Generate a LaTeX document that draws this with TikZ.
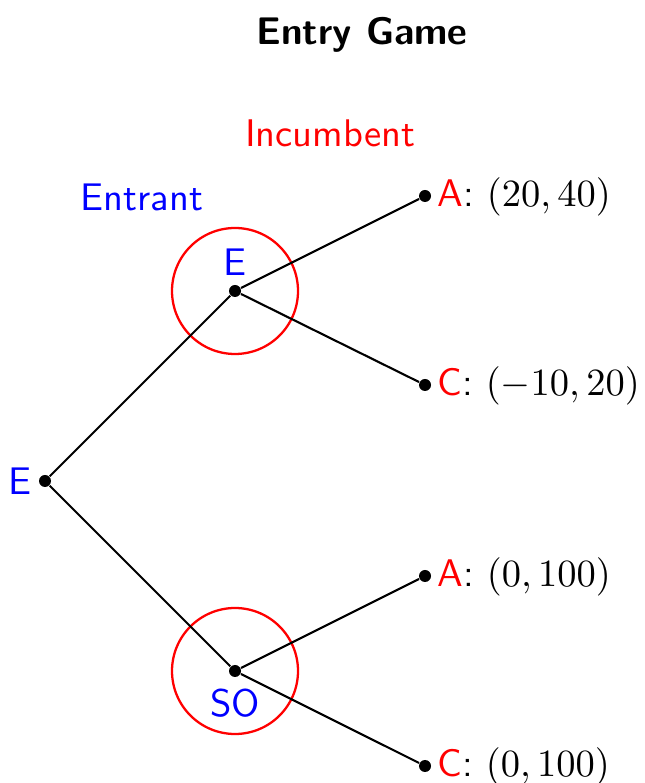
\documentclass[tikz,border=0pt,11pt]{standalone}
\renewcommand{\familydefault}{\sfdefault}

\begin{document}
\begin{tikzpicture}[x=1cm,y=1cm,
  dot/.style={circle, fill, inner sep=0pt, minimum size=0.12cm},
  player/.style={text=blue},
  ring/.style={draw=red, line width=0.65pt, circle, minimum size=1.26cm, inner sep=0pt},
  payoff/.style={anchor=base west, inner sep=0pt},
  edge/.style={line width=0.6pt}]
\useasboundingbox (0,0) rectangle (6.44,7.83);

\node[font=\bfseries] (title) at (3.62,7.48) {Entry Game};
\node[text=red] (inc) at (3.30,6.50) {Incumbent};
\node[player] (ent) at (1.42,5.86) {Entrant};

% decision nodes
\node[dot] (root) at (0.45,3.02) {};
\node[dot] (up) at (2.35,4.92) {};
\node[dot] (low) at (2.35,1.12) {};
\node[ring] (upring) at (2.35,4.92) {};
\node[ring] (lowring) at (2.35,1.12) {};
\node[player] (rootlab) at (0.20,3.02) {E};
\node[player] (uplab) at (2.35,5.21) {E};
\node[player] (lowlab) at (2.35,0.80) {SO};

% terminal nodes
\node[dot] (t1) at (4.25,5.87) {};
\node[dot] (t2) at (4.25,3.98) {};
\node[dot] (t3) at (4.25,2.07) {};
\node[dot] (t4) at (4.25,0.17) {};
\node[payoff] (p1) at (4.37,5.76) {\textcolor{red}{A}: $(20, 40)$};
\node[payoff] (p2) at (4.37,3.87) {\textcolor{red}{C}: $(-10, 20)$};
\node[payoff] (p3) at (4.37,1.96) {\textcolor{red}{A}: $(0, 100)$};
\node[payoff] (p4) at (4.37,0.06) {\textcolor{red}{C}: $(0, 100)$};

\draw[edge] (root) -- (up);
\draw[edge] (root) -- (low);
\draw[edge] (up) -- (t1);
\draw[edge] (up) -- (t2);
\draw[edge] (low) -- (t3);
\draw[edge] (low) -- (t4);
\end{tikzpicture}
\end{document}
